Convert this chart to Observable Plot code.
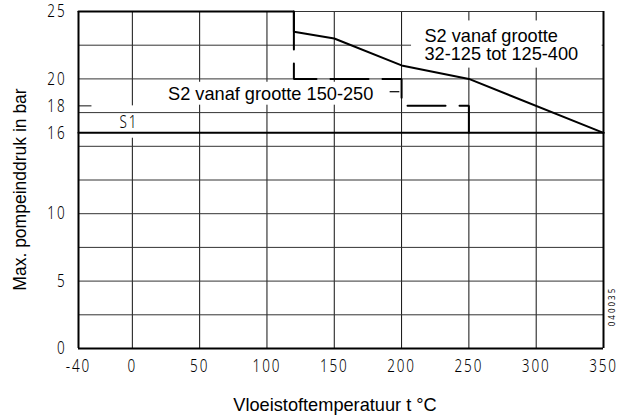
<!DOCTYPE html>
<html><head><meta charset="utf-8">
<script src="https://cdn.jsdelivr.net/npm/d3@7"></script>
<script src="https://cdn.jsdelivr.net/npm/@observablehq/plot@0.6"></script>
<style>
html,body{margin:0;padding:0;background:#fff;}
#chart svg{display:block;}
</style>
</head><body><div id="chart"></div>
<script>
// Axis ticks and grid
const xTicks = [-40, 0, 50, 100, 150, 200, 250, 300, 350];
const yTicks = [0, 5, 10, 16, 18, 20, 25];
const xGrid = [0, 50, 100, 150, 200, 250, 300];
const yGrid = [2.5, 5, 7.5, 10, 12.5, 15, 17.5, 20, 22.5, 25];

// S1 limit line
const s1Temp = [-40, 350];
const s1Press = [16, 16];

// S2 sizes 32-125 to 125-400 (solid)
const s2Temp = [-40, 120, 120, 150, 200, 250, 350];
const s2Press = [25, 25, 23.5, 23, 21, 20, 16];

// S2 sizes 150-250 (dashed)
const s2bTemp = [120, 120, 200, 200, 250, 250];
const s2bPress = [25, 20, 20, 18, 18, 16];

// Annotations
const labelText = ["S2 vanaf grootte", "32-125 tot 125-400", "S2 vanaf grootte 150-250"];
const labelX = [217, 217, 26.5];
const labelY = [23.15, 21.8, 18.9];
const s1Label = ["S1"];
const s1LabelX = [-2.5];
const s1LabelY = [16.8];
const leaderX1 = [191.5], leaderX2 = [198.7], leaderY = [19.05];

// White backgrounds behind labels
const s1BoxX1 = [-6], s1BoxX2 = [6], s1BoxY1 = [15.6], s1BoxY2 = [18.0];
const boxX1 = [207.4, 20.7], boxX2 = [349, 186], boxY1 = [20.8, 18.05], boxY2 = [24.3, 19.75];

const xTitle = ["Vloeistoftemperatuur t °C"];
const yTitle = ["Max. pompeinddruk in bar"];
const code = ["040035"];

const techFont = "'Noto Sans','DejaVu Sans Condensed',sans-serif";
const sansFont = "'Liberation Sans', Arial, Helvetica, sans-serif";

const chart = Plot.plot({
  width: 618, height: 416,
  marginLeft: 78, marginRight: 15, marginTop: 11, marginBottom: 68,
  style: {fontFamily: techFont, fontSize: "18px", color: "#000", background: "#fff", overflow: "visible"},
  x: {domain: [-40, 350]},
  y: {domain: [0, 25]},
  marks: [
    Plot.ruleX(xGrid, {stroke: "#111", strokeWidth: 1}),
    Plot.rect(s1BoxX1, {x1: s1BoxX1, x2: s1BoxX2, y1: s1BoxY1, y2: s1BoxY2, fill: "white"}),
    Plot.ruleY(yGrid, {stroke: "#333", strokeWidth: 1}),
    Plot.rect(boxX1, {x1: boxX1, x2: boxX2, y1: boxY1, y2: boxY2, fill: "white"}),
    Plot.ruleY([18], {x1: -40, x2: -30, stroke: "#111", strokeWidth: 1}),
    Plot.ruleX([-40, 350], {stroke: "#000", strokeWidth: 2}),
    Plot.ruleY([0], {stroke: "#000", strokeWidth: 2}),
    Plot.line(s1Temp, {x: s1Temp, y: s1Press, stroke: "#000", strokeWidth: 2}),
    Plot.line(s2Temp, {x: s2Temp, y: s2Press, stroke: "#000", strokeWidth: 2, strokeLinejoin: "miter"}),
    Plot.line(s2bTemp, {x: s2bTemp, y: s2bPress, stroke: "#000", strokeWidth: 2, strokeDasharray: "38,14", strokeLinejoin: "miter"}),
    Plot.ruleY(leaderY, {x1: leaderX1, x2: leaderX2, y: leaderY, stroke: "#000", strokeWidth: 1.2}),
    Plot.text(labelText, {x: labelX, y: labelY, text: labelText, textAnchor: "start", fontFamily: sansFont, fontSize: 18.2, fill: "#000"}),
    Plot.text(s1Label, {x: s1LabelX, y: s1LabelY, text: s1Label, fontSize: 18, fill: "#000"}),
    Plot.axisX(xTicks, {tickSize: 0, tickPadding: 11, label: null, fontSize: 18, tickFormat: d => String(d)}),
    Plot.axisY(yTicks, {tickSize: 0, tickPadding: 12, label: null, fontSize: 18, tickFormat: d => String(d)}),
    Plot.text(xTitle, {frameAnchor: "bottom", lineAnchor: "middle", dx: -6, dy: 57, fontFamily: sansFont, fontSize: 18.2, fill: "#000"}),
    Plot.text(yTitle, {frameAnchor: "left", textAnchor: "middle", dx: -58, dy: 9.5, rotate: -90, fontFamily: sansFont, fontSize: 17.5, fill: "#000"}),
    Plot.text(code, {frameAnchor: "right", textAnchor: "middle", dx: 9, dy: 126.5, rotate: -90, fontSize: 8, fill: "#000"})
  ]
});
// Narrow, thin technical lettering for tick labels and the S1 label
const svg = d3.select(chart);
const techText = new Set([...xTicks.map(String), ...yTicks.map(String), "S1"]);
svg.selectAll("text").each(function() {
  const t = this.textContent;
  if (techText.has(t)) {
    this.style.fontWeight = "300";
    this.style.letterSpacing = "2.5px";
    const tr = this.getAttribute("transform") || "";
    this.setAttribute("transform", tr + " scale(0.75,1)");
  } else if (t === "040035") {
    this.style.letterSpacing = "2px";
  }
});
document.getElementById("chart").appendChild(chart);
</script>
</body></html>
